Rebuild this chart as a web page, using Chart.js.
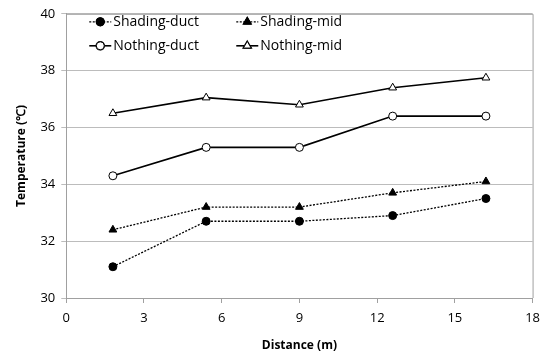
<!DOCTYPE html>
<html>
<head>
<meta charset="utf-8">
<script src="https://cdn.jsdelivr.net/npm/chart.js@4"></script>
<style>
    html, body { margin: 0; padding: 0; background: #fff; }
    #wrap { width: 547px; height: 355px; }
</style>
</head>
<body>
<div id="wrap"><canvas id="tempChart" width="547" height="355"></canvas></div>
<script>
const distances = [1.8, 5.4, 9, 12.6, 16.2];
const shadingDuct = [31.1, 32.7, 32.7, 32.9, 33.5];
const shadingMid = [32.4, 33.2, 33.2, 33.7, 34.1];
const nothingDuct = [34.3, 35.3, 35.3, 36.4, 36.4];
const nothingMid = [36.5, 37.05, 36.8, 37.4, 37.75];
const seriesNames = ['Shading-duct', 'Shading-mid', 'Nothing-duct', 'Nothing-mid'];

function toPoints(values) {
    return distances.map((d, i) => ({ x: d, y: values[i] }));
}

function makeSeries(label, values, dotted, pointStyle, filled) {
    return {
        label: label,
        data: toPoints(values),
        showLine: true,
        borderColor: '#000',
        borderWidth: dotted ? 1.3 : 1.6,
        borderDash: dotted ? [2, 1.5] : [],
        pointStyle: pointStyle,
        pointRadius: pointStyle === 'triangle' ? 4.5 : 4,
        pointBorderWidth: 1,
        pointBorderColor: '#000',
        pointBackgroundColor: filled ? '#000' : '#fff',
        fill: false
    };
}

// Box around the plot area and the in-plot legend
const framePlugin = {
    id: 'frame',
    afterDraw(chart) {
        const { ctx, chartArea } = chart;
        ctx.save();
        ctx.strokeStyle = '#a0a0a0';
        ctx.lineWidth = 1;
        ctx.beginPath();
        ctx.moveTo(chartArea.left, chartArea.top + 0.5);
        ctx.lineTo(chartArea.right + 0.5, chartArea.top + 0.5);
        ctx.lineTo(chartArea.right + 0.5, chartArea.bottom);
        ctx.stroke();

        const cols = [chartArea.left + 23, chartArea.left + 170];
        const rows = [chartArea.top + 8, chartArea.top + 32];
        ctx.font = '14px "Open Sans", sans-serif';
        ctx.textBaseline = 'middle';
        ctx.fillStyle = '#000';
        chart.data.datasets.forEach((ds, i) => {
            const x = cols[i % 2];
            const y = rows[Math.floor(i / 2)];
            ctx.strokeStyle = '#000';
            ctx.lineWidth = ds.borderWidth;
            ctx.setLineDash(ds.borderDash);
            ctx.beginPath();
            ctx.moveTo(x, y);
            ctx.lineTo(x + 22, y);
            ctx.stroke();
            ctx.setLineDash([]);
            Chart.helpers.drawPoint(ctx, {
                pointStyle: ds.pointStyle,
                radius: ds.pointRadius,
                borderWidth: 1
            }, x + 11, y);
            ctx.fillStyle = ds.pointBackgroundColor;
            ctx.strokeStyle = '#000';
            ctx.lineWidth = 1;
            ctx.fill();
            ctx.stroke();
            ctx.fillStyle = '#000';
            ctx.fillText(ds.label, x + 24, y);
        });
        ctx.restore();
    }
};

new Chart(document.getElementById('tempChart').getContext('2d'), {
    type: 'scatter',
    data: {
        datasets: [
            makeSeries(seriesNames[0], shadingDuct, true, 'circle', true),
            makeSeries(seriesNames[1], shadingMid, true, 'triangle', true),
            makeSeries(seriesNames[2], nothingDuct, false, 'circle', false),
            makeSeries(seriesNames[3], nothingMid, false, 'triangle', false)
        ]
    },
    options: {
        responsive: false,
        animation: false,
        layout: { padding: { top: 2, right: 12, left: 10, bottom: 0 } },
        plugins: {
            legend: { display: false },
            tooltip: { enabled: false }
        },
        scales: {
            x: {
                type: 'linear',
                min: 0,
                max: 18,
                ticks: { stepSize: 3, color: '#000', font: { family: '"Open Sans", sans-serif', size: 13 }, padding: 7 },
                grid: { drawOnChartArea: false, color: '#a0a0a0', tickLength: 5 },
                border: { color: '#a0a0a0' },
                title: { display: true, text: 'Distance (m)', color: '#000', font: { family: '"Open Sans", sans-serif', size: 12, weight: 'bold' }, padding: { top: 6, bottom: 2 } }
            },
            y: {
                min: 30,
                max: 40,
                ticks: { stepSize: 2, color: '#000', font: { family: '"Open Sans", sans-serif', size: 13 }, padding: 6 },
                grid: { color: '#bcbcbc', tickLength: 5 },
                border: { color: '#a0a0a0' },
                title: { display: true, text: 'Temperature (℃)', color: '#000', font: { family: '"Open Sans", sans-serif', size: 12, weight: 'bold' }, padding: { bottom: 6 } }
            }
        }
    },
    plugins: [framePlugin]
});
</script>
</body>
</html>
